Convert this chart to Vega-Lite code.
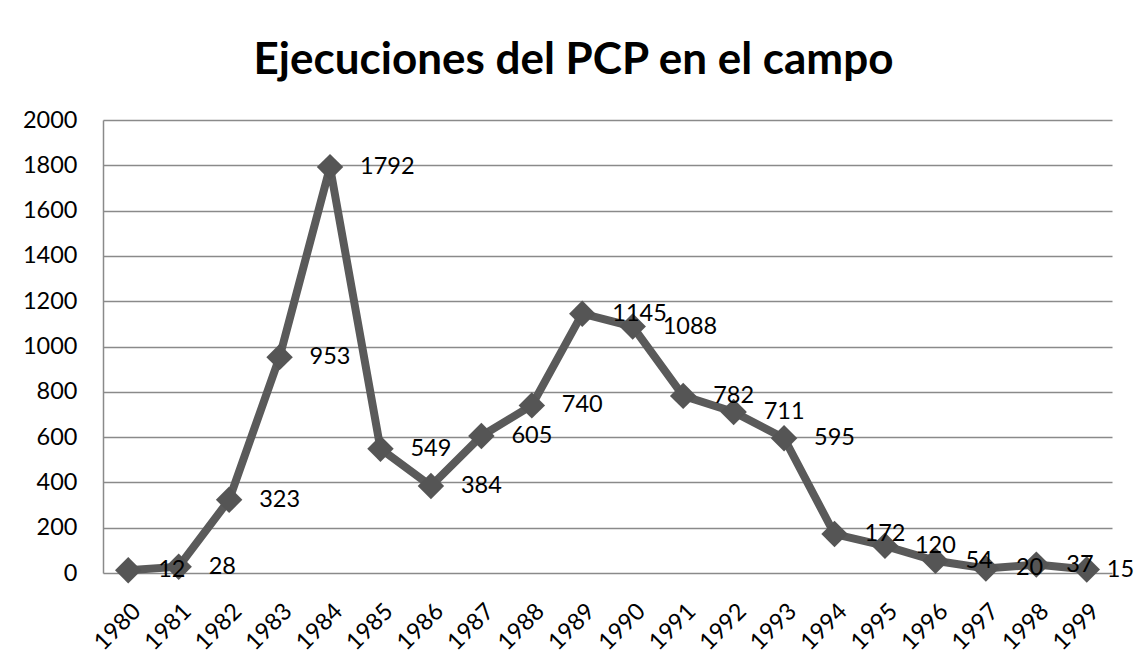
{
  "$schema": "https://vega.github.io/schema/vega-lite/v6.json",
  "width": 1009,
  "height": 453,
  "autosize": {"type": "none"},
  "padding": {"left": 103, "top": 120, "right": 22, "bottom": 93},
  "background": "white",
  "config": {
    "view": {"stroke": null},
    "font": "Lato"
  },
  "title": {
    "text": "Ejecuciones del PCP en el campo",
    "font": "Lato",
    "fontSize": 44,
    "fontWeight": "bold",
    "color": "black",
    "anchor": "middle",
    "frame": "group",
    "dx": -34,
    "baseline": "alphabetic",
    "offset": -10
  },
  "data": {
    "values": [
      {"year": "1980", "value": 12},
      {"year": "1981", "value": 28},
      {"year": "1982", "value": 323},
      {"year": "1983", "value": 953},
      {"year": "1984", "value": 1792},
      {"year": "1985", "value": 549},
      {"year": "1986", "value": 384},
      {"year": "1987", "value": 605},
      {"year": "1988", "value": 740},
      {"year": "1989", "value": 1145},
      {"year": "1990", "value": 1088},
      {"year": "1991", "value": 782},
      {"year": "1992", "value": 711},
      {"year": "1993", "value": 595},
      {"year": "1994", "value": 172},
      {"year": "1995", "value": 120},
      {"year": "1996", "value": 54},
      {"year": "1997", "value": 20},
      {"year": "1998", "value": 37},
      {"year": "1999", "value": 15}
    ]
  },
  "encoding": {
    "x": {
      "field": "year",
      "type": "ordinal",
      "scale": {"type": "point", "padding": 0.5},
      "axis": {
        "title": null,
        "labelAngle": -45,
        "labelFontSize": 23.5,
        "labelColor": "black",
        "labelPadding": 26,
        "ticks": false,
        "domain": false,
        "grid": false
      }
    },
    "y": {
      "field": "value",
      "type": "quantitative",
      "scale": {"domain": [0, 2000], "nice": false},
      "axis": {
        "title": null,
        "format": "d",
        "values": [0, 200, 400, 600, 800, 1000, 1200, 1400, 1600, 1800, 2000],
        "labelFontSize": 23.5,
        "labelColor": "black",
        "labelPadding": 26,
        "ticks": false,
        "domain": true,
        "domainColor": "#8a8a8a",
        "domainWidth": 1.5,
        "grid": true,
        "gridColor": "#8a8a8a",
        "gridWidth": 1.5
      }
    }
  },
  "layer": [
    {
      "mark": {"type": "line", "color": "#5a5a5a", "strokeWidth": 8, "strokeJoin": "miter"}
    },
    {
      "mark": {"type": "point", "shape": "diamond", "filled": true, "color": "#555555", "size": 700, "opacity": 1}
    },
    {
      "transform": [{"filter": "datum.year != '1999'"}],
      "mark": {"type": "text", "align": "left", "baseline": "middle", "dx": 30, "fontSize": 23.5, "color": "black", "font": "Lato"},
      "encoding": {"text": {"field": "value", "type": "quantitative"}}
    },
    {
      "transform": [{"filter": "datum.year == '1999'"}],
      "mark": {"type": "text", "align": "left", "baseline": "middle", "dx": 20, "fontSize": 23.5, "color": "black", "font": "Lato"},
      "encoding": {"text": {"field": "value", "type": "quantitative"}}
    }
  ]
}
